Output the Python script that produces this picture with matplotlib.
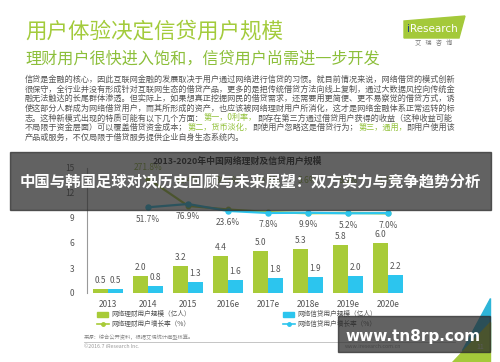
import matplotlib.pyplot as plt
from matplotlib.patches import Rectangle, Polygon
from matplotlib.lines import Line2D

plt.rcParams['font.family'] = ['Noto Sans CJK SC', 'DejaVu Sans']

# data
years = ["2013", "2014", "2015", "2016e", "2017e", "2018e", "2019e", "2020e"]
licai_users = [0.5, 2.0, 3.2, 4.4, 5.0, 5.3, 5.8, 6.0]
xindai_users = [0.5, 0.8, 1.3, 1.6, 1.8, 1.9, 2.0, 2.2]
licai_growth = [271.8, 62.4, 34.7, 15.1, 5.6, 8.5, 4.2]
xindai_growth = [51.7, 76.9, 23.6, 7.8, 9.9, 5.2, 7.0]

title = "用户体验决定信贷用户规模"
subtitle = "理财用户很快进入饱和，信贷用户尚需进一步开发"
chart_title = "2013-2020年中国网络理财及信贷用户规模"
banner = "中国与韩国足球对决历史回顾与未来展望：双方实力与竞争趋势分析"
legend_labels = ["网络理财用户规模（亿人）", "网络理财用户增长率（%）",
                 "网络信贷用户规模（亿人）", "网络信贷用户增长率（%）"]

GRAY_TXT = "#555555"
GREEN_TXT = "#92C13A"
paragraph = [
    [("信贷是金融的核心，因此互联网金融的发展取决于用户通过网络进行信贷的习惯。就目前情况来说，网络借贷的模式创新", GRAY_TXT)],
    [("很保守，全行业并没有形成针对互联网生态的借贷产品，更多的是把传统借贷方法向线上复制，通过大数据风控向传统金", GRAY_TXT)],
    [("融无法触达的长尾群体渗透。但实际上，如果想真正挖掘网民的借贷需求，还需要用更简便、更不易察觉的借贷方式，诱", GRAY_TXT)],
    [("使这部分人群成为网络借贷用户，而其所形成的资产，也应该被网络理财用户所消化，这才是网络金融体系正常运转的标", GRAY_TXT)],
    [("志。这种新模式出现的特质可能有以下几个方面：", GRAY_TXT), ("第一，0利率，", GREEN_TXT),
     ("即存在第三方通过借贷用户获得的收益（这种收益可能", GRAY_TXT)],
    [("不局限于资金层面）可以覆盖借贷资金成本；", GRAY_TXT), ("第二，货币淡化，", GREEN_TXT),
     ("即使用户忽略这是借贷行为；", GRAY_TXT), ("第三，通用，", GREEN_TXT), ("即用户使用该", GRAY_TXT)],
    [("产品或服务，不仅局限于借贷服务提供企业自身生态系统内。", GRAY_TXT)],
]

W, H = 500, 362
GREEN = "#A8CB38"
BLUE = "#2CC5EE"


def P(x, y):
    return x / W, 1 - y / H


fig = plt.figure(figsize=(5, 3.62), dpi=100)
fig.patch.set_facecolor("white")
bg = fig.add_axes([0, 0, 1, 1])
bg.set_xlim(0, 1)
bg.set_ylim(0, 1)
bg.axis("off")

# header
fig.text(*P(25, 32), title, fontsize=15.5, color="#A3CB3C", va="center", ha="left")
fig.text(*P(25, 59), subtitle, fontsize=11.6, color="#8CBF3A", va="center", ha="left")

# logo
fig.patches.append(Polygon([P(404, 21), P(465, 16), P(459, 38), P(404, 38)],
                           closed=True, transform=fig.transFigure, color="#A4C93A"))
fig.text(*P(407, 29), "i", fontsize=7.5, color="#1F3C88", va="center", ha="left", family="DejaVu Sans")
fig.text(*P(410, 29), "Research", fontsize=7.5, color="white", va="center", ha="left", family="DejaVu Sans")
fig.text(*P(434, 43), "艾   瑞   咨   询", fontsize=4.5, color="#777777", va="center", ha="center")

# paragraph
for i, segs in enumerate(paragraph):
    y = 84 + i * 9.6
    last = None
    for txt, col in segs:
        if last is None:
            last = bg.text(*P(25, y), txt, fontsize=5.85, color=col, va="bottom", ha="left")
        else:
            last = bg.annotate(txt, xy=(1, 0), xycoords=last, fontsize=5.85, color=col,
                               va="bottom", ha="left", annotation_clip=False)

# chart
ax = fig.add_axes([87 / W, (H - 293) / H, 323 / W, 125 / H])
x = list(range(len(years)))
w = 0.375
b1 = ax.bar([i - w / 2 for i in x], licai_users, w, color=GREEN, zorder=2)
b2 = ax.bar([i + w / 2 for i in x], xindai_users, w, color=BLUE, zorder=2)
for bars, vals in ((b1, licai_users), (b2, xindai_users)):
    for r, v in zip(bars, vals):
        ax.annotate(f"{v:.1f}", (r.get_x() + r.get_width() / 2, v), xytext=(0, 4),
                    textcoords="offset pixels", ha="center", va="bottom", fontsize=6, color=GRAY_TXT)
ax.set_xlim(-0.525, 7.55)
ax.set_ylim(0, 15)
ax.set_yticks([0, 3, 6, 9, 12, 15])
ax.set_xticks(x)
ax.set_xticklabels(years)
ax.tick_params(length=0, labelsize=6, labelcolor="#555555", pad=5)
ax.tick_params(axis="y", pad=9)
for s in ("top", "right", "bottom"):
    ax.spines[s].set_visible(False)
ax.spines["left"].set_color("#999999")
ax.spines["left"].set_linewidth(0.8)
ax.patch.set_alpha(0)

ax2 = ax.twinx()
ax2.set_ylim(-608, 354)
ax2.axis("off")
gx = x[1:]
ax2.plot(gx, licai_growth, color=GREEN, lw=1.6, marker="o", ms=3.2, zorder=3)
ax2.plot(gx, xindai_growth, color=BLUE, lw=1.6, marker="o", ms=3.6, zorder=4)
for xi, v in zip(gx, licai_growth):
    ax2.text(xi, max(v + 85, 254), f"{v}%", ha="center", va="center", fontsize=6,
             color="#8DB032", clip_on=False)
for xi, v in zip(gx, xindai_growth):
    ax2.annotate(f"{v}%", (xi, v), xytext=(0, -12), textcoords="offset pixels",
                 ha="center", va="center", fontsize=6, color=GRAY_TXT)

fig.text(*P(237, 161), chart_title, fontsize=6.4, fontweight="bold", color="#222222",
         ha="center", va="center")

# legend
lx = [(97, 111), (283, 297)]
ly = [314, 324]
for k, lab in enumerate(legend_labels):
    col = GREEN if k < 2 else BLUE
    hx, tx = lx[k // 2]
    yy = ly[k % 2]
    if k % 2 == 0:
        fig.patches.append(Rectangle(P(hx, yy + 2.5), 11 / W, 5 / H, transform=fig.transFigure,
                                     color=col))
    else:
        fig.lines.append(Line2D([hx / W, (hx + 12) / W], [P(0, yy)[1]] * 2, transform=fig.transFigure,
                                color=col, lw=1.2))
        fig.lines.append(Line2D([(hx + 6) / W], [P(0, yy)[1]], transform=fig.transFigure,
                                color=col, marker="o", ms=2.5))
    fig.text(*P(tx, yy), lab, fontsize=4.8, color=GRAY_TXT, ha="left", va="center")

# source / footer
fig.text(*P(84, 337), "来源：综合公开资料，根据艾瑞统计模型核算。", fontsize=3.8, color="#888888",
         ha="left", va="center")
fig.lines.append(Line2D([84 / W, 455 / W], [P(0, 342)[1]] * 2, transform=fig.transFigure,
                        color="#BBBBBB", lw=0.6))
fig.text(*P(84, 347), "©2016.7 iResearch Inc.", fontsize=3.8, color="#999999", ha="left", va="center")
fig.text(*P(345, 347), "www.iresearch.com.cn", fontsize=3.8, color="#999999", ha="left", va="center")

# corner decoration
fig.patches.append(Polygon([P(490, 298), P(490, 350), P(462, 350)], closed=True,
                           transform=fig.transFigure, color="#2DB5D8"))
fig.patches.append(Polygon([P(490, 322), P(490, 362), P(452, 362)], closed=True,
                           transform=fig.transFigure, color="#A4C93A"))
fig.text(*P(480, 347), "11", fontsize=5, color="#DDDDDD", ha="center", va="center")

# overlay banner
fig.patches.append(Rectangle(P(10, 210), 481 / W, 58 / H, transform=fig.transFigure,
                             color="#2b2b2b", alpha=0.74, zorder=10))
fig.text(*P(250, 182), banner, fontsize=11.1, fontweight="bold", color="white",
         ha="center", va="center", zorder=11)

# watermark box
fig.patches.append(Rectangle(P(338, 352), 152 / W, 36 / H, transform=fig.transFigure,
                             color="#2b2b2b", alpha=0.74, zorder=10))
fig.text(*P(413, 336), "www.tn8rp.com", fontsize=11, fontweight="bold", color="white",
         ha="center", va="center", family="DejaVu Sans", zorder=11)

fig.savefig("out.png", dpi=100)
